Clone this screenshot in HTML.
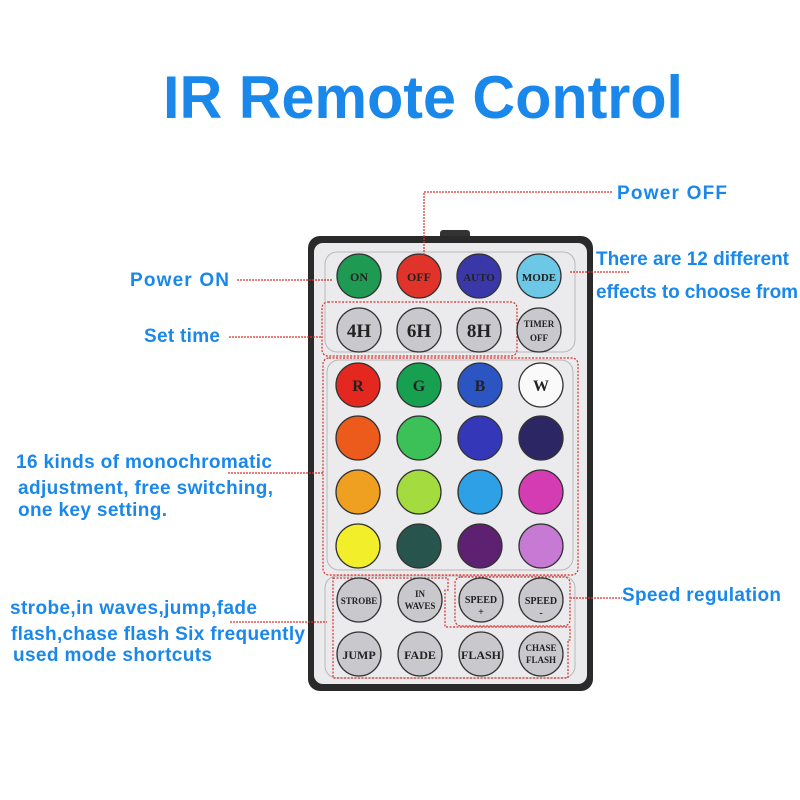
<!DOCTYPE html>
<html><head><meta charset="utf-8"><style>body{margin:0;background:#fff}svg{display:block}</style></head>
<body>
<svg width="800" height="800" viewBox="0 0 800 800" xmlns="http://www.w3.org/2000/svg" font-family="Liberation Sans, sans-serif">
<rect width="800" height="800" fill="#fff"/>
<text x="163" y="118" font-size="60" font-weight="bold" fill="#1a88ea" textLength="520" lengthAdjust="spacingAndGlyphs">IR Remote Control</text>

<rect x="440" y="230" width="30" height="10" rx="3" fill="#333"/>
<rect x="308" y="236" width="285" height="455" rx="12" fill="#2a2a2a"/>
<rect x="314" y="243" width="273" height="441" rx="9" fill="#ebebed"/>
<g fill="none" stroke="#b8b8b8" stroke-width="1">
<rect x="325" y="252" width="250" height="100" rx="12"/>
<rect x="327" y="360" width="246" height="210" rx="12"/>
<rect x="325" y="576" width="250" height="102" rx="12"/>
</g>
<g fill="none" stroke="#d9302c" stroke-width="1.2" stroke-dasharray="2,1.5">
<rect x="322" y="302" width="195" height="54" rx="6"/>
<rect x="323" y="358" width="255" height="217" rx="6"/>
<path d="M333 578 H448 V590 H445 V627 H570 V640 H568 V678 H333 Z"/>
<rect x="455" y="577" width="115" height="49" rx="6"/>
</g>

<g stroke="#333" stroke-width="1.3">
<circle cx="359" cy="276" r="22" fill="#1e9a52"/>
<circle cx="419" cy="276" r="22" fill="#e0332a"/>
<circle cx="479" cy="276" r="22" fill="#3a38a8"/>
<circle cx="539" cy="276" r="22" fill="#6cc8e6"/>
<circle cx="359" cy="330" r="22" fill="#c9c9cd"/>
<circle cx="419" cy="330" r="22" fill="#c9c9cd"/>
<circle cx="479" cy="330" r="22" fill="#c9c9cd"/>
<circle cx="539" cy="330" r="22" fill="#c9c9cd"/>

<circle cx="358" cy="385" r="22" fill="#e4281f"/>
<circle cx="419" cy="385" r="22" fill="#16a050"/>
<circle cx="480" cy="385" r="22" fill="#2c55c4"/>
<circle cx="541" cy="385" r="22" fill="#fafafa"/>
<circle cx="358" cy="438" r="22" fill="#ec5a1c"/>
<circle cx="419" cy="438" r="22" fill="#3cc058"/>
<circle cx="480" cy="438" r="22" fill="#3438b8"/>
<circle cx="541" cy="438" r="22" fill="#2c2664"/>
<circle cx="358" cy="492" r="22" fill="#f0a020"/>
<circle cx="419" cy="492" r="22" fill="#a4dc40"/>
<circle cx="480" cy="492" r="22" fill="#2ea0e6"/>
<circle cx="541" cy="492" r="22" fill="#d43cb4"/>
<circle cx="358" cy="546" r="22" fill="#f2ee2a"/>
<circle cx="419" cy="546" r="22" fill="#28544e"/>
<circle cx="480" cy="546" r="22" fill="#5e2070"/>
<circle cx="541" cy="546" r="22" fill="#c67ad4"/>

<circle cx="359" cy="600" r="22" fill="#c9c9cd"/>
<circle cx="420" cy="600" r="22" fill="#c9c9cd"/>
<circle cx="481" cy="600" r="22" fill="#c9c9cd"/>
<circle cx="541" cy="600" r="22" fill="#c9c9cd"/>
<circle cx="359" cy="654" r="22" fill="#c9c9cd"/>
<circle cx="420" cy="654" r="22" fill="#c9c9cd"/>
<circle cx="481" cy="654" r="22" fill="#c9c9cd"/>
<circle cx="541" cy="654" r="22" fill="#c9c9cd"/>
</g>

<g font-family="Liberation Serif, serif" font-weight="bold" text-anchor="middle" fill="#222">
<text x="359" y="281" font-size="12">ON</text>
<text x="419" y="281" font-size="12">OFF</text>
<text x="479" y="281" font-size="11">AUTO</text>
<text x="539" y="281" font-size="11">MODE</text>
<text x="359" y="337" font-size="19">4H</text>
<text x="419" y="337" font-size="19">6H</text>
<text x="479" y="337" font-size="19">8H</text>
<text x="539" y="327" font-size="9">TIMER</text>
<text x="539" y="341" font-size="9">OFF</text>
<text x="358" y="391" font-size="16">R</text>
<text x="419" y="391" font-size="16">G</text>
<text x="480" y="391" font-size="16">B</text>
<text x="541" y="391" font-size="16">W</text>
<text x="359" y="604" font-size="9">STROBE</text>
<text x="420" y="597" font-size="9">IN</text>
<text x="420" y="609" font-size="9">WAVES</text>
<text x="481" y="603" font-size="10">SPEED</text>
<text x="481" y="615" font-size="10">+</text>
<text x="541" y="604" font-size="10">SPEED</text>
<text x="541" y="616" font-size="10">-</text>
<text x="359" y="659" font-size="12">JUMP</text>
<text x="420" y="659" font-size="12">FADE</text>
<text x="481" y="659" font-size="12">FLASH</text>
<text x="541" y="651" font-size="9">CHASE</text>
<text x="541" y="663" font-size="9">FLASH</text>
</g>

<g fill="none" stroke="#d9302c" stroke-width="1.2" stroke-dasharray="2,1">
<path d="M424 258 V192 H613"/>
<path d="M237 280 H332"/>
<path d="M229 337 H322"/>
<path d="M570 272 H630"/>
<path d="M228 473 H323"/>
<path d="M230 622 H327"/>
<path d="M570 598 H622"/>
</g>

<g font-weight="bold" fill="#1a88ea" font-size="19" lengthAdjust="spacingAndGlyphs">
<text x="617" y="199" textLength="110">Power  OFF</text>
<text x="130" y="286" textLength="99">Power  ON</text>
<text x="144" y="342" textLength="76">Set time</text>
<text x="596" y="265" textLength="193">There are 12 different</text>
<text x="596" y="298" textLength="202">effects to choose from</text>
<text x="16" y="468" textLength="256">16 kinds of monochromatic</text>
<text x="18" y="494" textLength="255">adjustment, free switching,</text>
<text x="18" y="516" textLength="149">one key setting.</text>
<text x="10" y="614" textLength="247">strobe,in waves,jump,fade</text>
<text x="11" y="640" textLength="294">flash,chase flash Six frequently</text>
<text x="13" y="661" textLength="199">used mode shortcuts</text>
<text x="622" y="601" textLength="159">Speed regulation</text>
</g>
</svg>
</body></html>
